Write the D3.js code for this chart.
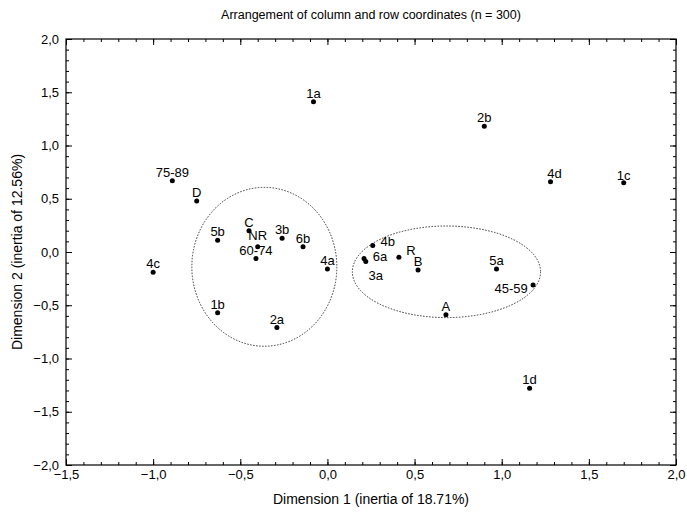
<!DOCTYPE html>
<html>
<head>
  <meta charset="UTF-8" />
  <title>Arrangement of column and row coordinates</title>
  <script src="https://d3js.org/d3.v7.min.js"></script>
  <style>
    body { margin: 0; background: #fff; }
    text { font-family: "Liberation Sans", Arial, sans-serif; fill: #000; }
    .axis path.domain { display: none; }
    .axis line { stroke: #000; }
    .pt-label { font-size: 13px; }
    .cluster { fill: none; stroke: #333; stroke-width: 1; stroke-dasharray: 1.5 1.5; }
  </style>
</head>
<body>
  <svg id="chart" width="687" height="516"></svg>
  <script>
    // point labels and their coordinates (dimension 1, dimension 2)
    const labels = ["1a", "2b", "75-89", "D", "4d", "1c", "C", "5b", "NR", "3b", "6b", "60-74",
                    "4c", "4a", "4b", "6a", "3a", "R", "B", "5a", "45-59", "A", "1b", "2a", "1d"];
    const dim1 = [-0.08, 0.90, -0.89, -0.75, 1.28, 1.70, -0.45, -0.63, -0.40, -0.26, -0.14, -0.41,
                  -1.00, 0.00, 0.26, 0.21, 0.22, 0.41, 0.52, 0.97, 1.18, 0.68, -0.63, -0.29, 1.16];
    const dim2 = [1.41, 1.18, 0.67, 0.48, 0.66, 0.65, 0.20, 0.11, 0.05, 0.13, 0.05, -0.06,
                  -0.19, -0.16, 0.06, -0.06, -0.09, -0.05, -0.17, -0.16, -0.31, -0.59, -0.57, -0.71, -1.28];

    // dotted group outlines: centre and radii in data units
    const groupCx = [-0.362, 0.683];
    const groupCy = [-0.139, -0.186];
    const groupRx = [0.416, 0.54];
    const groupRy = [0.746, 0.43];

    const xMajor = [-1.5, -1.0, -0.5, 0.0, 0.5, 1.0, 1.5, 2.0];
    const yMajor = [-2.0, -1.5, -1.0, -0.5, 0.0, 0.5, 1.0, 1.5, 2.0];

    // label placement tweaks (px) where the label isn't simply above the dot
    const labelShift = {
      "4b": [15, 4], "6a": [16, 7], "3a": [10, 22], "R": [12, 2],
      "45-59": [-22, 12], "4d": [4, 0], "1c": [0, 1], "NR": [0, -3], "60-74": [0, 1]
    };

    const width = 687, height = 516;
    const margin = { top: 39, right: 11, bottom: 51, left: 66 };
    const iw = width - margin.left - margin.right;
    const ih = height - margin.top - margin.bottom;

    const locale = d3.formatLocale({ decimal: ",", thousands: ".", grouping: [3], currency: ["", ""] });
    const fmt = locale.format(".1f");

    const x = d3.scaleLinear().domain([-1.5, 2.0]).range([0, iw]);
    const y = d3.scaleLinear().domain([-2.0, 2.0]).range([ih, 0]);

    const xMinor = d3.range(-15, 21).map(d => d / 10);
    const yMinor = d3.range(-20, 21).map(d => d / 10);

    const svg = d3.select("#chart");
    const g = svg.append("g").attr("transform", `translate(${margin.left},${margin.top})`);

    // minor ticks on all sides, pointing inward
    g.append("g").attr("class", "axis").attr("transform", `translate(0,${ih})`)
      .call(d3.axisBottom(x).tickValues(xMinor).tickSize(-3).tickFormat(""));
    g.append("g").attr("class", "axis")
      .call(d3.axisTop(x).tickValues(xMinor).tickSize(-3).tickFormat(""));
    g.append("g").attr("class", "axis")
      .call(d3.axisLeft(y).tickValues(yMinor).tickSize(-3).tickFormat(""));
    g.append("g").attr("class", "axis").attr("transform", `translate(${iw},0)`)
      .call(d3.axisRight(y).tickValues(yMinor).tickSize(-3).tickFormat(""));

    // major ticks with labels
    g.append("g").attr("class", "axis").attr("transform", `translate(0,${ih})`)
      .call(d3.axisBottom(x).tickValues(xMajor).tickSize(-6).tickPadding(5).tickFormat(fmt));
    g.append("g").attr("class", "axis")
      .call(d3.axisTop(x).tickValues(xMajor).tickSize(-6).tickFormat(""));
    g.append("g").attr("class", "axis")
      .call(d3.axisLeft(y).tickValues(yMajor).tickSize(-6).tickPadding(7).tickFormat(fmt));
    g.append("g").attr("class", "axis").attr("transform", `translate(${iw},0)`)
      .call(d3.axisRight(y).tickValues(yMajor).tickSize(-6).tickFormat(""));

    g.selectAll(".axis .tick text")
      .attr("font-family", "Liberation Sans, Arial, sans-serif")
      .attr("font-size", 13);

    // frame
    g.append("rect").attr("width", iw).attr("height", ih)
      .attr("fill", "none").attr("stroke", "#000").attr("stroke-width", 1.2);

    // dotted cluster outlines
    g.selectAll("ellipse.cluster")
      .data(d3.range(groupCx.length))
      .join("ellipse")
      .attr("class", "cluster")
      .attr("cx", i => x(groupCx[i]))
      .attr("cy", i => y(groupCy[i]))
      .attr("rx", i => x(groupRx[i]) - x(0))
      .attr("ry", i => y(0) - y(groupRy[i]));

    const pts = labels.map((l, i) => ({ label: l, d1: dim1[i], d2: dim2[i] }));

    g.selectAll("circle.pt")
      .data(pts)
      .join("circle")
      .attr("class", "pt")
      .attr("cx", d => x(d.d1))
      .attr("cy", d => y(d.d2))
      .attr("r", 2.5)
      .attr("fill", "#000");

    g.selectAll("text.pt-label")
      .data(pts)
      .join("text")
      .attr("class", "pt-label")
      .attr("text-anchor", "middle")
      .attr("x", d => x(d.d1) + (labelShift[d.label] ? labelShift[d.label][0] : 0))
      .attr("y", d => y(d.d2) - 4 + (labelShift[d.label] ? labelShift[d.label][1] : 0))
      .text(d => d.label);

    // titles
    svg.append("text")
      .attr("x", margin.left + iw / 2).attr("y", 19)
      .attr("text-anchor", "middle").attr("font-size", 12.5)
      .text("Arrangement of column and row coordinates (n = 300)");

    svg.append("text")
      .attr("x", margin.left + iw / 2).attr("y", 504)
      .attr("text-anchor", "middle").attr("font-size", 14)
      .text("Dimension 1 (inertia of 18.71%)");

    svg.append("text")
      .attr("transform", `translate(22,${margin.top + ih / 2}) rotate(-90)`)
      .attr("text-anchor", "middle").attr("font-size", 14)
      .text("Dimension 2 (inertia of 12.56%)");
  </script>
</body>
</html>
